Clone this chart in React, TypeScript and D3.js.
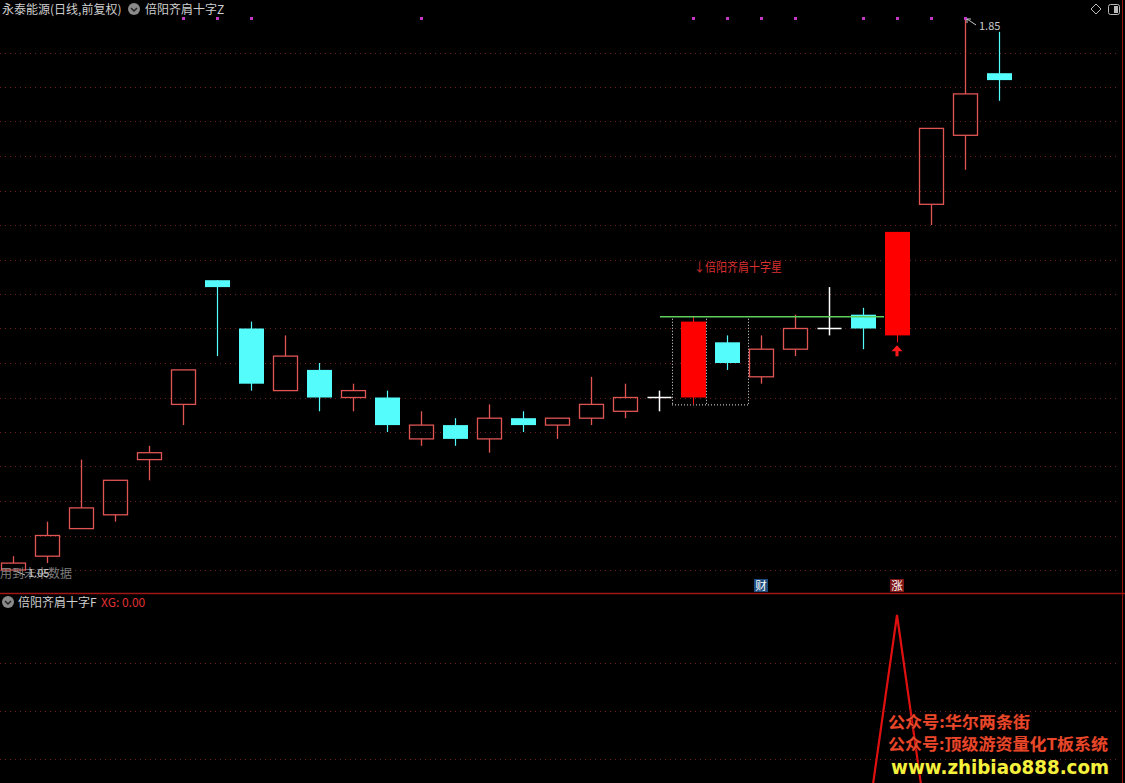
import React from "react";
import * as d3 from "d3";

// ---- data ----
const idx = d3.range(30);
const opens = [1.05, 1.07, 1.11, 1.13, 1.21, 1.29, 1.47, 1.40, 1.31, 1.34, 1.30, 1.30, 1.24, 1.26, 1.24, 1.27, 1.26, 1.27, 1.28, 1.30, 1.30, 1.38, 1.33, 1.37, 1.40, 1.42, 1.39, 1.58, 1.68, 1.77];
const highs = [1.07, 1.12, 1.21, 1.18, 1.23, 1.34, 1.47, 1.41, 1.39, 1.35, 1.32, 1.31, 1.28, 1.27, 1.29, 1.28, 1.27, 1.33, 1.32, 1.31, 1.417, 1.39, 1.39, 1.42, 1.46, 1.43, 1.54, 1.69, 1.85, 1.83];
const lows = [1.05, 1.06, 1.11, 1.12, 1.18, 1.26, 1.36, 1.31, 1.31, 1.28, 1.28, 1.25, 1.23, 1.23, 1.22, 1.25, 1.24, 1.26, 1.27, 1.28, 1.29, 1.34, 1.32, 1.36, 1.39, 1.37, 1.38, 1.55, 1.63, 1.73];
const closes = [1.06, 1.10, 1.14, 1.18, 1.22, 1.34, 1.46, 1.32, 1.36, 1.30, 1.31, 1.26, 1.26, 1.24, 1.27, 1.26, 1.27, 1.29, 1.30, 1.30, 1.41, 1.35, 1.37, 1.40, 1.40, 1.40, 1.54, 1.69, 1.74, 1.76];
const filledRed = [20, 26];
const flagDots = [5, 6, 7, 12, 20, 21, 22, 23, 25, 26, 27, 28];
const xgValues = idx.map((i) => (i === 26 ? 1 : 0));
const priceTicks = d3.range(1.05, 1.8001, 0.05);
const xgTicks = [0.4, 0.6, 0.8];
const patternStart = 20;
const patternEnd = 21;
const lineEnd = 26;
const signalIdx = 26;
const caiIdx = 22;

const W = 1125;
const H = 783;

const RED = "#e05454";
const CYAN = "#54fcfc";
const GRID = "#6e2020";
const FONT = "'Noto Sans CJK SC', 'Noto Sans', sans-serif";

export default function App() {
  const x = d3.scaleBand<number>().domain(idx).range([-4, -4 + 34 * 30]).padding(0);
  const cx = (i: number) => (x(i) as number) + x.bandwidth() / 2;
  const y = d3.scaleLinear().domain([1.05, 1.85]).range([570, 18]);
  const y2 = d3.scaleLinear().domain([0, 1]).range([855, 615]);
  const bw = 24;

  const xgLine = d3
    .line<number>()
    .x((_, i) => cx(i))
    .y((d) => y2(d));

  const lineY = y(highs[patternStart]);
  const boxLeft = cx(patternStart) - 21;
  const boxRight = cx(patternEnd) + 21;
  const boxMid = cx(patternStart) + bw / 2 + 1;
  const boxBottom = y(Math.min(lows[patternStart], lows[patternEnd]));

  const maxI = highs.indexOf(d3.max(highs) as number);
  const minI = lows.indexOf(d3.min(lows) as number);

  return (
    <svg
      width={W}
      height={H}
      style={{ position: "absolute", left: 0, top: 0, background: "#000" }}
      fontFamily={FONT}
    >
      <rect width={W} height={H} fill="#000" />
      <defs>
        <clipPath id="lower">
          <rect x={0} y={594} width={W} height={H - 594} />
        </clipPath>
      </defs>

      {/* grid upper */}
      {priceTicks.map((p, k) => (
        <line key={"g" + k} x1={0} x2={1120} y1={Math.round(y(p)) + 0.5} y2={Math.round(y(p)) + 0.5} stroke={GRID} strokeDasharray="1,4" />
      ))}
      {/* grid lower */}
      {xgTicks.map((v, k) => (
        <line key={"g2" + k} x1={0} x2={1120} y1={Math.round(y2(v)) + 0.5} y2={Math.round(y2(v)) + 0.5} stroke={GRID} strokeDasharray="1,4" />
      ))}

      {/* right border & divider */}
      <line x1={1122.5} x2={1122.5} y1={0} y2={H} stroke="#a01515" />
      <line x1={0} x2={W} y1={593.5} y2={593.5} stroke="#a01515" strokeWidth={1.5} />

      {/* pattern box */}
      <line x1={boxLeft + 0.5} x2={boxLeft + 0.5} y1={lineY + 2} y2={boxBottom} stroke="#e0e0e0" strokeDasharray="1,2" />
      <line x1={boxMid + 0.5} x2={boxMid + 0.5} y1={lineY + 2} y2={boxBottom} stroke="#e0e0e0" strokeDasharray="1,2" />
      <line x1={boxRight + 0.5} x2={boxRight + 0.5} y1={lineY + 2} y2={boxBottom} stroke="#e0e0e0" strokeDasharray="1,2" />
      <line x1={boxLeft} x2={boxRight} y1={boxBottom + 0.5} y2={boxBottom + 0.5} stroke="#e0e0e0" strokeDasharray="1,2" />

      {/* candles */}
      {idx.map((i) => {
        const o = opens[i];
        const c = closes[i];
        const xc = Math.round(cx(i)) + 0.5;
        const left = Math.round(cx(i) - bw / 2) + 0.5;
        if (o === c) {
          return (
            <g key={i} stroke="#fff" strokeWidth={1.5}>
              <line x1={xc} x2={xc} y1={y(highs[i])} y2={y(lows[i])} />
              <line x1={xc - 12} x2={xc + 12} y1={y(c)} y2={y(c)} />
            </g>
          );
        }
        const up = c > o;
        const top = y(Math.max(o, c));
        const bot = y(Math.min(o, c));
        const h = Math.max(bot - top, 1);
        if (up && filledRed.includes(i)) {
          return (
            <g key={i}>
              <line x1={xc} x2={xc} y1={y(highs[i])} y2={y(lows[i])} stroke="#ff1010" />
              <rect x={left - 0.5} y={top} width={bw + 1} height={h} fill="#ff0000" />
            </g>
          );
        }
        if (up) {
          return (
            <g key={i} stroke={RED} strokeWidth={1.3} fill="none">
              <line x1={xc} x2={xc} y1={y(highs[i])} y2={top} />
              <line x1={xc} x2={xc} y1={bot} y2={y(lows[i])} />
              <rect x={left} y={top} width={bw} height={h} />
            </g>
          );
        }
        return (
          <g key={i}>
            <line x1={xc} x2={xc} y1={y(highs[i])} y2={y(lows[i])} stroke={CYAN} strokeWidth={1.2} />
            <rect x={left - 0.5} y={top} width={bw + 1} height={h} fill={CYAN} />
          </g>
        );
      })}

      {/* green level line */}
      <line x1={cx(patternStart - 1) + 1} x2={cx(lineEnd) - 13} y1={lineY} y2={lineY} stroke="#5ccf5c" strokeWidth={1.3} />

      {/* pattern label */}
      <text x={cx(patternStart) + 1} y={272} fontSize={12.5} fill="#d83030" textLength={88} lengthAdjust="spacingAndGlyphs">↓倍阳齐肩十字星</text>

      {/* signal arrow */}
      <g fill="#ff1a1a">
        <path d={`M${cx(signalIdx)},${y(lows[signalIdx]) + 3} l-5.5,6 l11,0 z`} />
        <rect x={cx(signalIdx) - 1.5} y={y(lows[signalIdx]) + 8} width={3} height={6} />
      </g>

      {/* flag dots */}
      {flagDots.map((i) => (
        <rect key={"d" + i} x={Math.round(cx(i)) - 1} y={17} width={3} height={3} fill="#c23ac2" />
      ))}

      {/* max / min labels */}
      <path d={`M${cx(maxI) + 2},${y(highs[maxI]) + 1} l9,6`} stroke="#c8c8c8" fill="none" />
      <path d={`M${cx(maxI) + 2},${y(highs[maxI]) + 1} l4,0 M${cx(maxI) + 2},${y(highs[maxI]) + 1} l0,4`} stroke="#c8c8c8" fill="none" />
      <text x={cx(maxI) + 14} y={30} fontSize={11} fill="#c8c8c8">{highs[maxI].toFixed(2)}</text>
      <path d={`M${cx(minI) + 2},${y(lows[minI]) + 1} l10,4`} stroke="#c8c8c8" fill="none" />
      <text x={0} y={578} fontSize={12} fill="#8a8a8a" opacity={0.9}>用到未来数据</text>
      <text x={cx(minI) + 15} y={577} fontSize={11} fill="#c8c8c8">{lows[minI].toFixed(2)}</text>

      {/* 财 / 涨 markers */}
      <rect x={cx(caiIdx) - 7} y={579} width={14} height={13} fill="#1d4d7d" />
      <text x={cx(caiIdx)} y={590} fontSize={11.5} fill="#fff" textAnchor="middle">财</text>
      <rect x={cx(signalIdx) - 7} y={579} width={14} height={13} fill="#7d1515" />
      <text x={cx(signalIdx)} y={590} fontSize={11.5} fill="#fff" textAnchor="middle">涨</text>

      {/* header */}
      <text x={2} y={14} fontSize={12} fill="#cfcfcf">永泰能源(日线,前复权)</text>
      <circle cx={134} cy={9} r={6} fill="#8a8a8a" />
      <path d="M131,8 l3,3 l3,-3" stroke="#222" strokeWidth={1.5} fill="none" />
      <text x={145} y={14} fontSize={12} fill="#cfcfcf">倍阳齐肩十字Z</text>
      <path d="M1096,4 l5,5 l-5,5 l-5,-5 z" stroke="#bbb" fill="none" />
      <rect x={1108.5} y={4.5} width={11} height={10} rx={2} stroke="#bbb" fill="none" />
      <rect x={1114} y={6} width={4} height={7} fill="#bbb" />

      {/* lower panel header */}
      <circle cx={8} cy={602} r={6} fill="#8a8a8a" />
      <path d="M5,601 l3,3 l3,-3" stroke="#222" strokeWidth={1.5} fill="none" />
      <text x={18} y={607} fontSize={12} fill="#cfcfcf">倍阳齐肩十字F</text>
      <text x={101} y={607} fontSize={12} fill="#e03030">XG: {xgValues[xgValues.length - 1].toFixed(2)}</text>

      {/* XG line */}
      <path d={xgLine(xgValues) || ""} stroke="#e01010" strokeWidth={2.2} fill="none" clipPath="url(#lower)" />

      {/* watermark */}
      <g fontWeight="bold" stroke="#300" strokeWidth={0.6} paintOrder="stroke">
        <text x={888} y={728} fontSize={16} fill="#e8482a" textLength={142} lengthAdjust="spacingAndGlyphs">公众号:华尔两条街</text>
        <text x={888} y={750} fontSize={16} fill="#e8482a" textLength={220} lengthAdjust="spacingAndGlyphs">公众号:顶级游资量化T板系统</text>
        <text x={891} y={774} fontSize={19} fill="#f2f23c" textLength={218} lengthAdjust="spacingAndGlyphs" fontFamily="'DejaVu Sans', sans-serif">www.zhibiao888.com</text>
      </g>
    </svg>
  );
}
